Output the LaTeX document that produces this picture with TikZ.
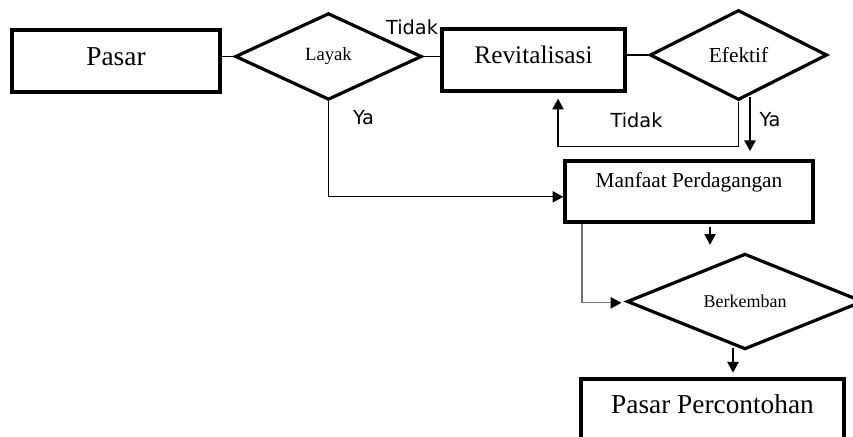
\documentclass[tikz,border=0pt]{standalone}
\usepackage{fontspec}
\setmainfont{Liberation Serif}
\setsansfont{DejaVu Sans}
\usetikzlibrary{shapes.geometric,arrows.meta}
\def\px{0.75pt}
\tikzset{
  box/.style={draw, line width=2.6pt, inner sep=0pt},
  dia/.style={draw, diamond, line width=2.4pt, inner sep=0pt},
  line/.style={line width=0.9pt},
  arrow/.style={line width=0.9pt, -{Triangle[length=8pt,width=8.5pt]}},
  grayarrow/.style={line width=0.9pt, black!55, -{Triangle[length=8pt,width=8.5pt,color=black]}},
  lbl/.style={font=\sffamily\fontsize{14.5}{17}\selectfont, inner sep=0pt}
}

\begin{document}
\begin{tikzpicture}[x=\px, y=-\px]
			%%%%% START %%%%%
			\useasboundingbox (0,0) rectangle (853,436);
			
			\node[box, minimum width=156pt, minimum height=46.5pt, text depth=6pt, font=\fontsize{20.5}{24}\selectfont] (pasar) at (116,61) {Pasar};
			\node[dia, minimum width=140pt, minimum height=65pt, font=\fontsize{14}{16}\selectfont] (layak) at (328.5,56.5) {Layak};
			\node[box, minimum width=137pt, minimum height=46.5pt, text depth=7.5pt, font=\fontsize{19}{22}\selectfont] (revit) at (533.5,60) {Revitalisasi};
			\node[dia, minimum width=133pt, minimum height=67.5pt, font=\fontsize{16}{18}\selectfont] (efektif) at (738.5,55) {Efektif};
			\node[box, minimum width=186pt, minimum height=46pt, text depth=17.5pt, font=\fontsize{16}{19}\selectfont] (manfaat) at (689,191.5) {Manfaat Perdagangan};
			\node[dia, minimum width=177pt, minimum height=62pt, font=\fontsize{13.5}{16}\selectfont] (berkemban) at (745,301.5) {Berkemban};
			\node[box, minimum width=197pt, minimum height=49.5pt, text depth=12pt, font=\fontsize{20.5}{24}\selectfont] (contoh) at (712.5,412) {Pasar Percontohan};
			
			\draw[line] (layak.west -| pasar.east) -- (layak.west);
			\draw[line] (layak.east) -- (layak.east -| revit.west);
			\draw[line] (efektif.west -| revit.east) -- (efektif.west);
			
			\draw[arrow] (layak.south) |- ([yshift=-4pt]manfaat.west);
			\draw[arrow, shorten >=4.5pt] (efektif.south) -- ++(0,45) -| ([xshift=18.4pt]revit.south);
			
			\coordinate (e1) at (750,97);
			\draw[arrow, shorten >=6pt] (e1) -- (e1 |- manfaat.north);
			
			\coordinate (m1) at (710,227);
			\draw[arrow, shorten >=5.5pt] (m1) -- (m1 |- berkemban.north);
			\draw[grayarrow, shorten >=3pt] ([xshift=-80.25pt]manfaat.south) |- ([yshift=-1pt]berkemban.west);
			
			\coordinate (b1) at (733,348);
			\draw[arrow, shorten >=3.5pt] (b1) -- (b1 |- contoh.north);
			
			\node[lbl] (tidak1) at (412,27) {Tidak};
			\node[lbl] (ya1) at (363.5,118) {Ya};
			\node[lbl] (tidak2) at (636.5,120) {Tidak};
			\node[lbl] (ya2) at (770,120) {Ya};
			%%%%% END %%%%%
		\end{tikzpicture}
\end{document}
